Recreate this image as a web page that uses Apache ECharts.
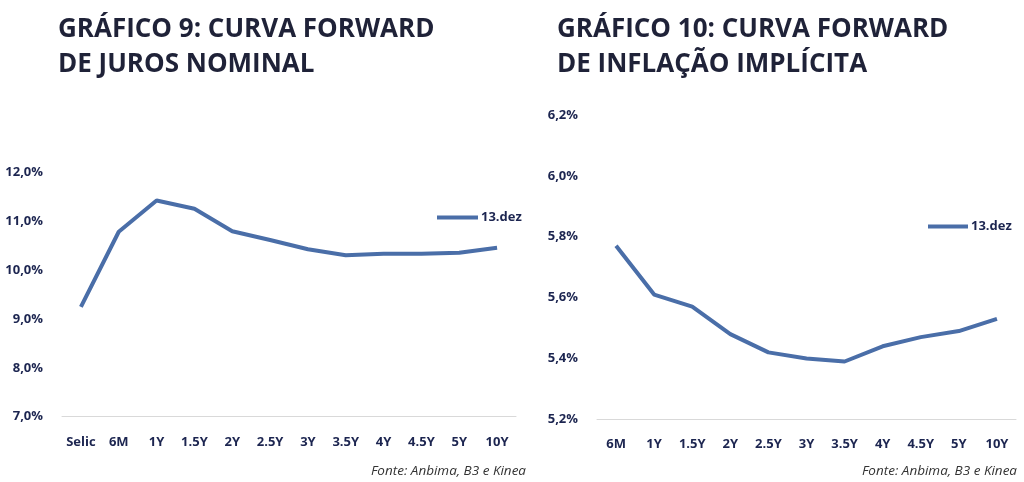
<!DOCTYPE html>
<html><head><meta charset="utf-8">
<script src="https://cdn.jsdelivr.net/npm/echarts@6/dist/echarts.min.js"></script>
<style>html,body{margin:0;padding:0;background:#fff}#c{width:1024px;height:482px}</style>
</head><body><div id="c"></div>
<script>
const cats1 = ['Selic','6M','1Y','1.5Y','2Y','2.5Y','3Y','3.5Y','4Y','4.5Y','5Y','10Y'];
const vals1 = [9.25,10.79,11.43,11.26,10.80,10.62,10.43,10.31,10.34,10.34,10.36,10.46];
const cats2 = ['6M','1Y','1.5Y','2Y','2.5Y','3Y','3.5Y','4Y','4.5Y','5Y','10Y'];
const vals2 = [5.77,5.61,5.57,5.48,5.42,5.40,5.39,5.44,5.47,5.49,5.53];
const seriesName = '13.dez';
const title1 = 'GRÁFICO 9: CURVA FORWARD\nDE JUROS NOMINAL';
const title2 = 'GRÁFICO 10: CURVA FORWARD\nDE INFLAÇÃO IMPLÍCITA';
const source = 'Fonte: Anbima, B3 e Kinea';

const navy = '#1c2550';
const lineColor = '#4a6ea8';
const font = 'Open Sans';
const chart = echarts.init(document.getElementById('c'));
const axisLbl = {color: navy, fontWeight: 'bold', fontSize: 13, fontFamily: font};
chart.setOption({
  animation: false,
  title: [
    {text: title1, left: 53, top: 7, textStyle: {color: '#1f2238', fontSize: 26, fontWeight: 'bold', fontFamily: font, lineHeight: 35}},
    {text: title2, left: 552, top: 7, textStyle: {color: '#1f2238', fontSize: 26, fontWeight: 'bold', fontFamily: font, lineHeight: 35}},
    {text: source, right: 493, top: 459, textStyle: {color: '#333', fontSize: 13.5, fontWeight: 'normal', fontStyle: 'italic', fontFamily: font}},
    {text: source, right: 2, top: 459, textStyle: {color: '#333', fontSize: 13.5, fontWeight: 'normal', fontStyle: 'italic', fontFamily: font}}
  ],
  legend: [
    {data: [seriesName], left: 432, top: 206, icon: 'rect', itemWidth: 41, itemHeight: 4, itemGap: 4,
     textStyle: {color: navy, fontWeight: 'bold', fontSize: 13, fontFamily: font, padding: [0,0,0,-2]}},
    {data: [seriesName], left: 923, top: 215, icon: 'rect', itemWidth: 40, itemHeight: 4,
     textStyle: {color: navy, fontWeight: 'bold', fontSize: 13, fontFamily: font, padding: [0,0,0,-2]}}
  ],
  grid: [
    {left: 62, right: 508, top: 172.7, bottom: 482 - 416.7, containLabel: false},
    {left: 597, right: 8, top: 115, bottom: 482 - 419.3, containLabel: false}
  ],
  xAxis: [
    {type: 'category', gridIndex: 0, data: cats1, boundaryGap: true,
     axisLine: {lineStyle: {color: '#d9d9d9', width: 1}}, axisTick: {show: false},
     axisLabel: Object.assign({margin: 19, interval: 0}, axisLbl)},
    {type: 'category', gridIndex: 1, data: cats2, boundaryGap: true,
     axisLine: {lineStyle: {color: '#d9d9d9', width: 1}}, axisTick: {show: false},
     axisLabel: Object.assign({margin: 18, interval: 0}, axisLbl)}
  ],
  yAxis: [
    {type: 'value', gridIndex: 0, min: 7, max: 12, interval: 1, splitLine: {show: false},
     axisLine: {show: false}, axisTick: {show: false},
     axisLabel: Object.assign({margin: 19, formatter: v => v.toFixed(1).replace('.', ',') + '%'}, axisLbl)},
    {type: 'value', gridIndex: 1, min: 5.2, max: 6.2, interval: 0.2, splitLine: {show: false},
     axisLine: {show: false}, axisTick: {show: false},
     axisLabel: Object.assign({margin: 19, formatter: v => v.toFixed(1).replace('.', ',') + '%'}, axisLbl)}
  ],
  series: [
    {name: seriesName, type: 'line', xAxisIndex: 0, yAxisIndex: 0, data: vals1, symbol: 'none',
     lineStyle: {color: lineColor, width: 4}, itemStyle: {color: lineColor}},
    {name: seriesName, type: 'line', xAxisIndex: 1, yAxisIndex: 1, data: vals2, symbol: 'none',
     lineStyle: {color: lineColor, width: 4}, itemStyle: {color: lineColor}}
  ]
});
</script></body></html>
